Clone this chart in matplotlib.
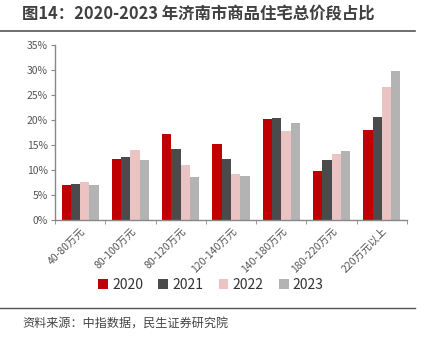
import numpy as np
import matplotlib.pyplot as plt
from matplotlib.lines import Line2D

plt.rcParams['font.family'] = ['Noto Sans CJK SC', 'DejaVu Sans']

# 价格段
categories = ["40-80万元", "80-100万元", "80-120万元", "120-140万元",
              "140-180万元", "180-220万元", "220万元以上"]
years = ["2020", "2021", "2022", "2023"]
v2020 = [7.0, 12.2, 17.3, 15.3, 20.3, 9.9, 18.0]
v2021 = [7.3, 12.7, 14.3, 12.3, 20.5, 12.0, 20.7]
v2022 = [7.7, 14.1, 11.1, 9.2, 17.8, 13.3, 26.6]
v2023 = [7.0, 12.0, 8.6, 8.9, 19.5, 13.9, 29.8]
series = [v2020, v2021, v2022, v2023]
colors = ["#C00000", "#4B4B4D", "#EBC3C3", "#B3B3B3"]

fig = plt.figure(figsize=(4.26, 3.37), dpi=100)
ax = fig.add_axes([55/426, 1-220/337, 352/426, 175/337])

x = np.arange(len(categories))
w = 0.185
for i, (vals, c) in enumerate(zip(series, colors)):
    ax.bar(x + (i - 1.5)*w, vals, width=w, color=c, label=years[i], zorder=2)

ax.set_xlim(-0.5, len(categories) - 0.5)
ax.set_ylim(0, 35)
ax.set_yticks(np.arange(0, 36, 5))
ax.set_yticklabels([f"{t}%" for t in range(0, 36, 5)], fontsize=7.5, color="#555555")
ax.set_xticks(x)
ax.set_xticklabels(categories, rotation=45, ha="right", rotation_mode="anchor",
                   fontsize=7.5, color="#555555")
ax.set_xticks(np.arange(-0.5, len(categories)), minor=True)
ax.tick_params(axis="x", which="major", length=0, pad=4)
ax.tick_params(axis="x", which="minor", length=3, color="#888888", direction="out")
ax.tick_params(axis="y", length=3, color="#888888", pad=2)
for s in ["top", "right"]:
    ax.spines[s].set_visible(False)
for s in ["left", "bottom"]:
    ax.spines[s].set_color("#888888")
    ax.spines[s].set_linewidth(1.0)

ax.legend(loc="center", bbox_to_anchor=(0.443, -0.37), ncol=4, frameon=False,
          fontsize=10, handlelength=0.7, handleheight=0.7, handletextpad=0.3,
          columnspacing=1.1, labelcolor="#333333")

# 标题和来源
fig.text(22/426, 1-14/337, "图14：2020-2023 年济南市商品住宅总价段占比", fontsize=11.8,
         fontweight="bold", color="#404040", va="center", ha="left")
fig.add_artist(Line2D([0, 415/426], [1-31/337, 1-31/337], color="#555555", lw=1.2))
fig.add_artist(Line2D([0, 415/426], [1-308/337, 1-308/337], color="#555555", lw=1.0))
fig.text(22/426, 1-324/337, "资料来源：中指数据，民生证券研究院", fontsize=8.7,
         color="#444444", va="center", ha="left")

fig.savefig("out.png", dpi=100)
